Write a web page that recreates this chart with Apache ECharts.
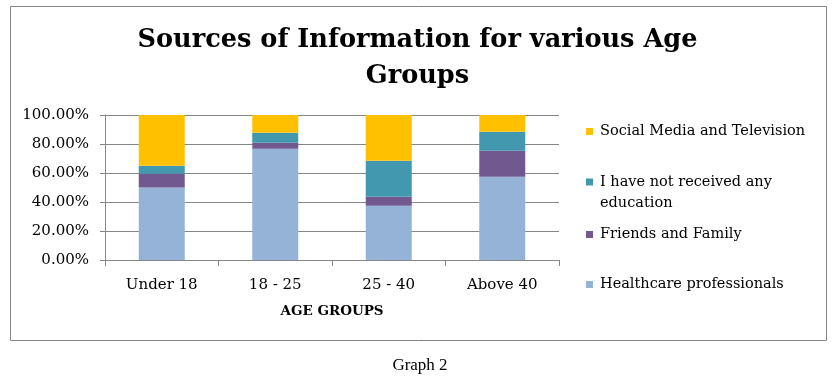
<!DOCTYPE html>
<html>
<head>
<meta charset="utf-8">
<script src="https://cdn.jsdelivr.net/npm/echarts@6/dist/echarts.min.js"></script>
<style>
    html, body { margin: 0; padding: 0; background: #fff; }
    #main { width: 838px; height: 377px; }
</style>
</head>
<body>
<div id="main"></div>
<script>
// values (share of each age group, %)
var ageGroups = ['Under 18', '18 - 25', '25 - 40', 'Above 40'];
var healthcare = [50, 76.8, 37.5, 57.5];
var friends = [9.5, 4.1, 6.2, 17.9];
var noEducation = [5.5, 6.9, 24.8, 13.1];
var socialMedia = [35, 12.2, 31.5, 11.5];
var yTicks = [0, 20, 40, 60, 80, 100];

var serif = "'DejaVu Serif', serif";

var myChart = echarts.init(document.getElementById('main'));

function legendItem(name, top, formatter) {
    return {
        orient: 'vertical',
        left: 586,
        top: top,
        padding: 0,
        itemWidth: 7,
        itemHeight: 7,
        itemGap: 0,
        icon: 'rect',
        selectedMode: false,
        formatter: formatter,
        textStyle: {
            fontFamily: serif,
            fontSize: 14.5,
            color: '#000',
            lineHeight: 21,
            padding: [0, 0, 0, 2]
        },
        data: [name]
    };
}

var option = {
    backgroundColor: '#fff',
    animation: false,
    title: [{
        text: 'Sources of Information for various Age\nGroups',
        left: 412.5,
        textAlign: 'center',
        top: 17,
        textStyle: {
            fontFamily: serif,
            fontWeight: 'bold',
            fontSize: 25.6,
            lineHeight: 36,
            color: '#000'
        }
    }, {
        text: 'Graph 2',
        left: 415,
        textAlign: 'center',
        top: 352,
        textStyle: {
            fontFamily: "'Liberation Serif', serif",
            fontWeight: 'normal',
            fontSize: 17,
            color: '#000'
        }
    }],
    graphic: [{
        type: 'rect',
        shape: { x: 10.5, y: 6.5, width: 816, height: 334 },
        style: { fill: null, stroke: '#868686', lineWidth: 1 },
        silent: true
    }],
    legend: [
        legendItem('Social Media and Television', 121),
        // blank first line keeps the marker level with the first text line
        legendItem('I have not received any education', 150.5, function () {
            return '\nI have not received any\neducation';
        }),
        legendItem('Friends and Family', 224),
        legendItem('Healthcare professionals', 274)
    ],
    grid: {
        left: 105,
        right: 279,
        top: 115,
        bottom: 117
    },
    xAxis: {
        type: 'category',
        data: ageGroups,
        name: 'AGE GROUPS',
        nameLocation: 'middle',
        nameGap: 44,
        nameTextStyle: {
            fontFamily: serif,
            fontWeight: 'bold',
            fontSize: 13.5,
            color: '#000'
        },
        axisLine: { lineStyle: { color: '#868686', width: 1 } },
        axisTick: { show: true, length: 6, lineStyle: { color: '#868686' } },
        axisLabel: {
            fontFamily: serif,
            fontSize: 15,
            color: '#000',
            margin: 18
        }
    },
    yAxis: {
        type: 'value',
        min: yTicks[0],
        max: yTicks[yTicks.length - 1],
        interval: 20,
        axisLine: { show: true, lineStyle: { color: '#868686', width: 1 } },
        axisTick: { show: true, inside: false, length: 5, lineStyle: { color: '#868686' } },
        splitLine: { show: true, lineStyle: { color: '#868686', width: 1 } },
        axisLabel: {
            fontFamily: serif,
            fontSize: 15,
            color: '#000',
            margin: 16,
            formatter: function (v) { return v.toFixed(2) + '%'; }
        }
    },
    series: [{
        name: 'Healthcare professionals',
        type: 'bar',
        stack: 'total',
        barWidth: 46,
        itemStyle: { color: '#95B3D7' },
        data: healthcare
    }, {
        name: 'Friends and Family',
        type: 'bar',
        stack: 'total',
        barWidth: 46,
        itemStyle: { color: '#71588F' },
        data: friends
    }, {
        name: 'I have not received any education',
        type: 'bar',
        stack: 'total',
        barWidth: 46,
        itemStyle: { color: '#4198AF' },
        data: noEducation
    }, {
        name: 'Social Media and Television',
        type: 'bar',
        stack: 'total',
        barWidth: 46,
        itemStyle: { color: '#FFC000' },
        data: socialMedia
    }]
};
myChart.setOption(option);
</script>
</body>
</html>
